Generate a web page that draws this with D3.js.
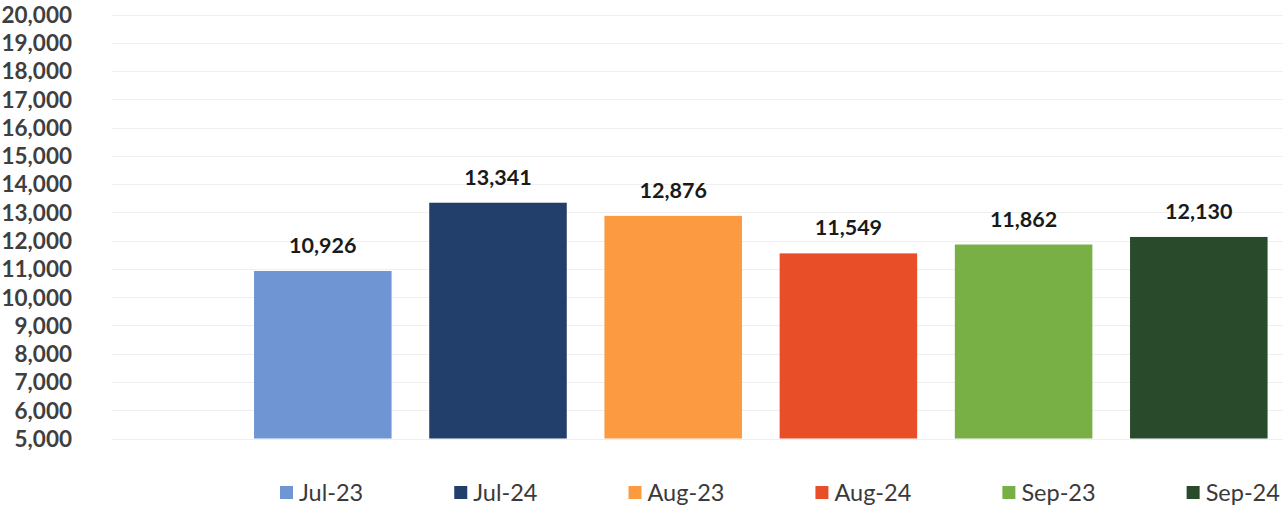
<!DOCTYPE html>
<html>
<head>
<meta charset="utf-8">
<script src="https://cdn.jsdelivr.net/npm/d3@7"></script>
<style>
  html, body { margin: 0; padding: 0; background: #ffffff; }
  svg { display: block; }
</style>
</head>
<body>
<svg id="chart" width="1283" height="506"></svg>
<script>
// Monthly totals, one bar per month
const categories = ["Jul-23", "Jul-24", "Aug-23", "Aug-24", "Sep-23", "Sep-24"];
const values = [10926, 13341, 12876, 11549, 11862, 12130];
const colors = ["#6f96d3", "#223e6b", "#fc9a41", "#e84e28", "#79b045", "#294a2b"];
const yTicks = [5000, 6000, 7000, 8000, 9000, 10000, 11000, 12000, 13000, 14000, 15000, 16000, 17000, 18000, 19000, 20000];

const W = 1283, H = 506;
const svg = d3.select("#chart");
const fontFamily = "Lato, 'Open Sans', sans-serif";
const fmt = d3.format(",");

const y = d3.scaleLinear().domain([5000, 20000]).range([438.5, 14.5]);
const x = d3.scaleBand().domain(categories).range([235.2, 1286.4])
  .paddingInner(0.215).paddingOuter(0.1075);

// horizontal gridlines
svg.append("g").selectAll("line").data(yTicks).join("line")
  .attr("x1", 112).attr("x2", W)
  .attr("y1", d => Math.round(y(d)) + 0.5).attr("y2", d => Math.round(y(d)) + 0.5)
  .attr("stroke", "#efefef").attr("stroke-width", 1);

// y axis labels (no domain line, no tick marks)
const yAxis = d3.axisLeft(y).tickValues(yTicks).tickFormat(fmt).tickSize(0).tickPadding(0);
const gy = svg.append("g").attr("transform", "translate(72,0)").call(yAxis);
gy.select(".domain").remove();
gy.selectAll("text")
  .attr("font-family", fontFamily).attr("font-size", 22.5).attr("font-weight", 700)
  .attr("fill", "#3f3f3f").attr("dy", "0.35em");

// bars
svg.append("g").selectAll("rect").data(categories).join("rect")
  .attr("x", d => x(d))
  .attr("y", (d, i) => y(values[i]))
  .attr("width", x.bandwidth())
  .attr("height", (d, i) => y(5000) - y(values[i]))
  .attr("fill", (d, i) => colors[i]);

// value labels
svg.append("g").selectAll("text").data(categories).join("text")
  .attr("x", d => x(d) + x.bandwidth() / 2)
  .attr("y", (d, i) => y(values[i]) - 18)
  .attr("text-anchor", "middle")
  .attr("font-family", fontFamily).attr("font-size", 21.5).attr("font-weight", 700)
  .attr("fill", "#1a1a1a")
  .text((d, i) => fmt(values[i]));

// legend laid out by text width
const legend = svg.append("g");
let lx = 280;
categories.forEach((c, i) => {
  const g = legend.append("g").attr("transform", `translate(${lx},0)`);
  g.append("rect").attr("x", 0).attr("y", 486).attr("width", 13).attr("height", 13).attr("fill", colors[i]);
  const t = g.append("text").attr("x", 19).attr("y", 501)
    .attr("font-family", fontFamily).attr("font-size", 23.5).attr("font-weight", 400)
    .attr("fill", "#3a3a3a").text(c);
  lx += 19 + t.node().getComputedTextLength() + 91;
});
</script>
</body>
</html>
